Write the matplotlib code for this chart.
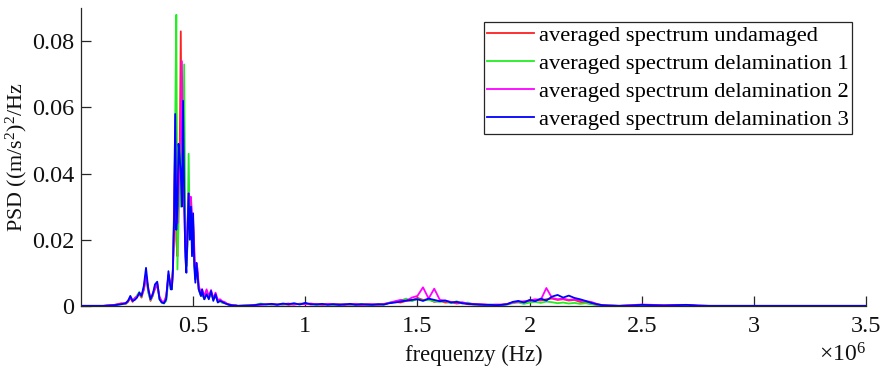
import numpy as np
import matplotlib.pyplot as plt

plt.rcParams['font.family'] = ['Liberation Serif', 'DejaVu Serif']
plt.rcParams['mathtext.fontset'] = 'custom'
plt.rcParams['mathtext.rm'] = 'Liberation Serif'
plt.rcParams['mathtext.it'] = 'Liberation Serif:italic'

# frequency grid in MHz
freq_mhz = [
    0.00, 0.10, 0.15, 0.18, 0.20, 0.21, 0.22, 0.23, 0.24, 0.25, 0.26, 0.27, 0.28,
    0.29, 0.30, 0.31, 0.32, 0.33, 0.34, 0.35, 0.36, 0.37, 0.38, 0.39, 0.40,
    0.405, 0.41, 0.415, 0.42, 0.425, 0.43, 0.435, 0.44, 0.445, 0.45, 0.455, 0.46,
    0.465, 0.47, 0.475, 0.48, 0.485, 0.49, 0.495, 0.50, 0.505, 0.51, 0.515, 0.52,
    0.525, 0.53, 0.535, 0.54, 0.545, 0.55,
    0.56, 0.57, 0.58, 0.59, 0.60, 0.61, 0.62, 0.63, 0.64, 0.65, 0.66, 0.67, 0.68,
    0.69, 0.70,
    0.750, 0.775, 0.800, 0.825, 0.850, 0.875, 0.900, 0.925, 0.950, 0.975, 1.000,
    1.025, 1.050, 1.075, 1.100, 1.125, 1.150, 1.175, 1.200, 1.225, 1.250, 1.275,
    1.300, 1.325, 1.350, 1.375, 1.400, 1.425, 1.450, 1.475, 1.500, 1.525, 1.550,
    1.575, 1.600, 1.625, 1.650, 1.675, 1.700, 1.725, 1.750, 1.775, 1.800, 1.825,
    1.850, 1.875, 1.900, 1.925, 1.950, 1.975, 2.000, 2.025, 2.050, 2.075, 2.100,
    2.125, 2.150, 2.175, 2.200, 2.225, 2.250, 2.275, 2.300, 2.325, 2.350,
    2.40, 2.45, 2.50, 2.55, 2.60, 2.65, 2.70, 2.75, 2.80, 3.00, 3.50,
]

# PSD values in units of 1e-3 (m/s^2)^2/Hz
psd_undamaged = [
    0, 0, 0.3, 0.8, 0.6, 1.2, 2.5, 1.2, 2.2, 3.0, 3.5, 2.5, 5.0, 8.5, 4.5, 1.5,
    3.0, 5.5, 6.0, 2.5, 1.2, 1.0, 2.5, 9.0, 6.0,
    5, 10, 25, 45, 20, 15, 30, 45, 83, 35, 55, 40, 20, 12, 20, 30, 25, 32, 22,
    24, 15, 8, 11, 10, 5, 4, 3, 4, 3, 2,
    4.0, 2.5, 4.0, 2.0, 3.0, 1.5, 1.8, 1.0, 0.9, 0.5, 0.4, 0.2, 0.1, 0.1, 0,
    0.1, 0.3, 0.4, 0.6, 0.4, 0.5, 0.6, 0.3, 0.5, 0.6, 0.7, 0.4, 0.6, 0.3, 0.5,
    0.4, 0.6, 0.3, 0.5, 0.4, 0.3, 0.5, 0.4, 0.3, 0.6, 0.9, 1.2, 1.0, 1.5, 1.6,
    2.4, 1.8, 2.0, 1.2, 1.5, 1.0, 1.1, 0.7, 0.9, 0.5, 0.4, 0.3, 0.4, 0.2, 0.3,
    0.4, 0.6, 1.0, 1.3, 0.8, 1.5, 1.8, 1.6, 2.0, 2.2, 1.8, 2.0, 1.6, 1.8, 1.2,
    1.0, 0.6, 0.3, 0.2, 0.1,
    0, 0.1, 0.1, 0.1, 0.1, 0.1, 0.1, 0, 0, 0, 0,
]
psd_delam1 = [
    0, 0, 0.2, 0.5, 0.7, 1.4, 2.8, 1.8, 2.0, 3.2, 4.2, 2.8, 5.5, 9.5, 4.0, 1.8,
    3.2, 6.0, 6.5, 2.0, 1.0, 0.7, 1.5, 8.0, 7.0,
    5, 12, 30, 55, 88, 11, 25, 40, 30, 55, 40, 73, 25, 12, 18, 46, 22, 30, 20,
    25, 14, 8, 12, 9, 5, 4, 3, 4, 3, 2,
    4.5, 2.2, 3.5, 2.5, 3.2, 1.2, 1.4, 0.9, 1.0, 0.6, 0.3, 0.2, 0.2, 0.1, 0,
    0.2, 0.2, 0.7, 0.5, 0.4, 0.6, 0.3, 0.6, 0.4, 0.7, 0.5, 0.6, 0.3, 0.5, 0.6,
    0.3, 0.4, 0.6, 0.3, 0.5, 0.6, 0.3, 0.4, 0.5, 0.3, 1.0, 1.2, 1.6, 2.2, 1.4,
    2.1, 1.6, 1.8, 1.4, 1.2, 1.5, 0.8, 1.4, 0.7, 1.0, 0.4, 0.5, 0.3, 0.4, 0.3,
    0.2, 0.4, 0.8, 1.0, 0.6, 1.0, 1.2, 0.9, 1.3, 1.1, 0.8, 1.0, 0.7, 0.9, 0.6,
    0.8, 0.5, 0.4, 0.1, 0.1,
    0, 0.1, 0.1, 0.1, 0.1, 0.1, 0.1, 0, 0, 0, 0,
]
psd_delam2 = [
    0, 0, 0.3, 0.6, 0.9, 1.6, 2.2, 1.6, 2.4, 2.8, 3.8, 3.2, 4.8, 9.0, 5.5, 2.2,
    3.8, 5.0, 6.8, 2.8, 1.4, 1.2, 3.0, 9.5, 6.5,
    6, 11, 28, 50, 30, 25, 35, 45, 50, 74, 45, 30, 18, 14, 25, 34, 32, 33, 28,
    26, 18, 9, 13, 11, 6, 5, 4, 5, 4, 3,
    5.0, 3.0, 4.8, 2.2, 4.0, 1.8, 2.0, 1.4, 1.2, 0.7, 0.5, 0.3, 0.2, 0.1, 0,
    0.1, 0.3, 0.3, 0.5, 0.6, 0.4, 0.5, 0.7, 0.4, 0.6, 0.5, 0.7, 0.5, 0.4, 0.6,
    0.5, 0.3, 0.5, 0.4, 0.6, 0.3, 0.4, 0.5, 0.4, 0.5, 0.9, 1.4, 1.8, 1.5, 2.5,
    3.0, 5.6, 2.2, 5.2, 1.8, 1.6, 1.2, 1.0, 1.1, 0.7, 0.6, 0.5, 0.4, 0.3, 0.4,
    0.3, 0.5, 1.0, 1.2, 1.4, 1.6, 2.0, 1.8, 5.4, 2.4, 2.0, 2.2, 1.8, 2.0, 1.6,
    1.4, 1.2, 0.6, 0.2, 0.1,
    0, 0.2, 0.4, 0.3, 0.2, 0.3, 0.3, 0.1, 0, 0, 0,
]
psd_delam3 = [
    0, 0, 0.2, 0.5, 0.8, 1.5, 3.0, 1.5, 1.8, 2.5, 4.0, 3.0, 6.0, 11.5, 5.0, 2.0,
    3.5, 6.5, 7.3, 2.0, 1.0, 0.8, 2.0, 10.5, 5.0,
    5, 11, 26, 58, 23, 30, 49, 45, 40, 30, 62, 35, 15, 10, 22, 34, 20, 30, 15,
    28, 12, 7, 13, 9, 5, 4, 3, 5, 3, 2,
    3.5, 2.0, 4.5, 1.5, 3.5, 1.0, 1.5, 1.2, 0.8, 0.6, 0.3, 0.2, 0.1, 0.1, 0,
    0.1, 0.2, 0.5, 0.4, 0.6, 0.3, 0.7, 0.5, 0.8, 0.4, 0.9, 0.5, 0.4, 0.6, 0.3,
    0.5, 0.3, 0.4, 0.6, 0.3, 0.5, 0.4, 0.3, 0.5, 0.4, 0.8, 1.0, 1.3, 1.6, 1.8,
    2.0, 1.5, 2.2, 1.8, 1.4, 1.6, 1.0, 1.2, 0.8, 0.6, 0.5, 0.4, 0.3, 0.3, 0.2,
    0.3, 0.5, 1.2, 1.5, 1.0, 1.8, 1.4, 2.2, 1.6, 2.8, 3.3, 2.5, 3.1, 2.4, 2.0,
    1.5, 0.9, 0.5, 0.2, 0.1,
    0, 0.1, 0.3, 0.2, 0.1, 0.2, 0.3, 0.1, 0, 0, 0,
]

labels = ['averaged spectrum undamaged', 'averaged spectrum delamination 1',
          'averaged spectrum delamination 2', 'averaged spectrum delamination 3']
colors = ['#ff2020', '#22ee22', '#ff00ff', '#0000ff']

x_ticks = [0.5, 1, 1.5, 2, 2.5, 3, 3.5]
x_ticklabels = ['0.5', '1', '1.5', '2', '2.5', '3', '3.5']
y_ticks = [0, 0.02, 0.04, 0.06, 0.08]
y_ticklabels = ['0', '0.02', '0.04', '0.06', '0.08']

f = np.array(freq_mhz) * 1e6
series = [psd_undamaged, psd_delam1, psd_delam2, psd_delam3]

fig = plt.figure(figsize=(8.85, 3.73), dpi=100)
ax = fig.add_axes([0.0915, 0.18, 0.887, 0.798])

for vals, lab, col in zip(series, labels, colors):
    ax.plot(f, np.array(vals) * 1e-3, color=col, lw=1.3, label=lab)

ax.set_xlim(0, 3.5e6)
ax.set_ylim(0, 0.09)
ax.set_xticks([t * 1e6 for t in x_ticks])
ax.set_xticklabels(x_ticklabels)
ax.set_yticks(y_ticks)
ax.set_yticklabels(y_ticklabels)

for side in ['top', 'right']:
    ax.spines[side].set_visible(False)
for side in ['left', 'bottom']:
    ax.spines[side].set_color('#262626')
    ax.spines[side].set_linewidth(0.9)
ax.tick_params(direction='in', length=7, width=0.9, colors='#262626',
               labelsize=17.5, labelcolor='#111111')
ax.tick_params(axis='x', pad=7)
ax.tick_params(axis='y', pad=5)

ax.set_xlabel('frequenzy (Hz)', fontsize=16.3, color='#111111', labelpad=6)
ax.set_ylabel('PSD ((m/s$^2$)$^2$/Hz', fontsize=15.8, color='#111111', labelpad=2)
ax.text(1.0, -0.188, r'$\times 10^6$', transform=ax.transAxes, ha='right',
        va='baseline', fontsize=17, color='#111111')

leg = ax.legend(loc='upper right', fontsize=16.2, frameon=True, fancybox=False,
                edgecolor='#262626', framealpha=1, handlelength=2.05,
                handletextpad=0.25, labelspacing=0.33, borderpad=0.15,
                borderaxespad=0.6)
leg.get_frame().set_linewidth(0.9)

fig.savefig('out.png', dpi=100)
